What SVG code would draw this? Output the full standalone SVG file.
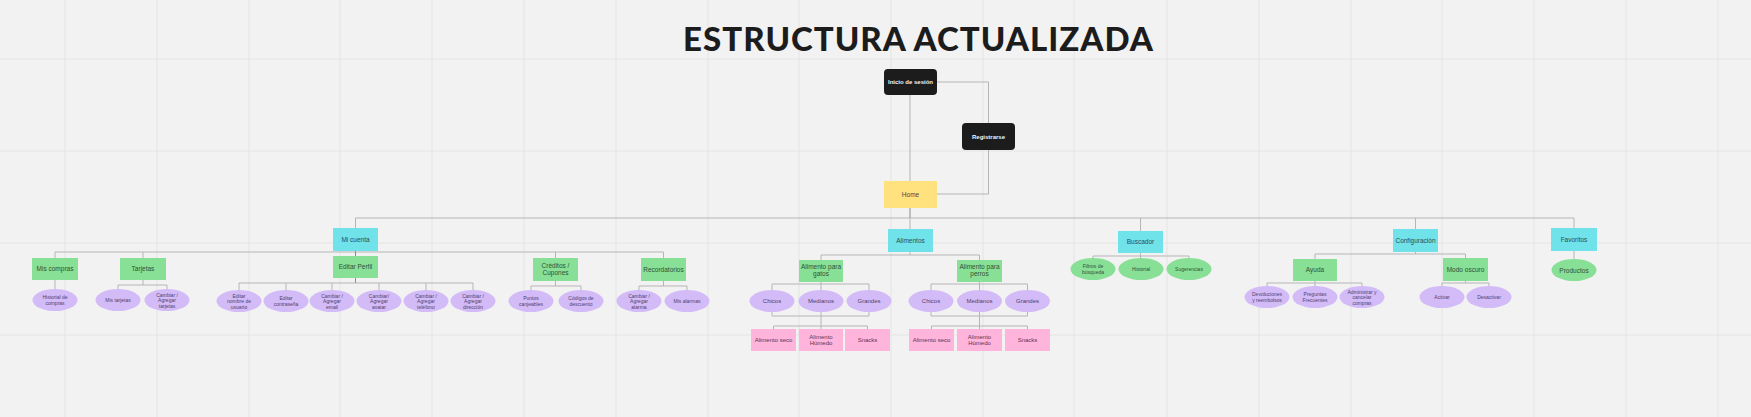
<svg xmlns="http://www.w3.org/2000/svg" width="1751" height="417" viewBox="0 0 1751 417">
<style>
.bg{fill:#f2f2f2}
.grid{stroke:#e4e4e4;stroke-width:1}
.c{fill:none;stroke:#b5b5b5;stroke-width:1}
.cd{fill:none;stroke:#8a8a8a;stroke-width:1}
.dark{fill:#1c1c1c}
.yel{fill:#ffe17e}
.cy{fill:#6fe2ea}
.gr{fill:#88e096}
.pu{fill:#d3bbf8}
.pk{fill:#ffb4dc}
text{font-family:"Liberation Sans",Arial,sans-serif;text-anchor:middle}
.t{font-size:6.5px;fill:#3d4a4a}
.tw{font-size:6px;fill:#f4f4f4;font-weight:bold}
.tg{font-size:6.5px;fill:#2f5136}
.tc{font-size:6.5px;fill:#2a4e55}
.te{font-size:5px;fill:#4d3f6e}
.tge{font-size:5px;fill:#2f5136}
.tp{font-size:6px;fill:#5e3350}
.title{font-family:Lato,"Liberation Sans",sans-serif;font-weight:900;font-size:33px;fill:#1c1c1c}
</style>
<rect class="bg" x="0" y="0" width="1751" height="417"/>
<g id="grid">
<path class="grid" d="M65,0V417M157,0V417M249,0V417M340,0V417M432,0V417M524,0V417M616,0V417M708,0V417M799,0V417M891,0V417M983,0V417M1074,0V417M1167,0V417M1259,0V417M1351,0V417M1442,0V417M1534,0V417M1626,0V417M1718,0V417M0,59H1751M0,151H1751M0,243H1751M0,335H1751"/>
</g>
<text class="title" x="918" y="51" textLength="470" lengthAdjust="spacing">ESTRUCTURA ACTUALIZADA</text>
<g id="connectors">
<path class="c" d="M910,95V181M937,82H988.5V194H937"/>
<path class="cd" d="M910,208V218"/>
<path class="c" d="M355.5,218H1574M355.5,218V228M910,218V229M1140.5,218V231M1415.5,218V229M1574,218V228"/>
<path class="c" d="M55,252H663.5M55,252V258M143,252V258M555.5,252V258M663.5,252V258"/>
<path class="cd" d="M355.5,251V256"/>
<path class="c" d="M55,280V289"/>
<path class="c" d="M143,280V285M118,285H167M118,285V289M167,285V289"/>
<path class="cd" d="M355.5,278V283"/>
<path class="c" d="M239,283H473M239,283V290M286,283V290M332,283V290M379,283V290M426,283V290M473,283V290"/>
<path class="c" d="M555.5,281V286M531,286H581M531,286V290M581,286V290"/>
<path class="c" d="M663.5,281V286M639,286H687M639,286V290M687,286V290"/>
<path class="c" d="M910,252V255M821,255H979.5M821,255V260M979.5,255V260"/>
<path class="c" d="M821,282V284M772,284H869M772,284V290M821,284V290M869,284V290"/>
<path class="c" d="M772,312V316M869,312V316M772,316H869M821,312V326M773.5,326H867.5M773.5,326V329M821,326V329M867.5,326V329"/>
<path class="c" d="M979.5,282V284M931,284H1027.5M931,284V290M979.5,284V290M1027.5,284V290"/>
<path class="c" d="M931,312V316M1027.5,312V316M931,316H1027.5M979.5,312V326M931.5,326H1027.5M931.5,326V329M979.5,326V329M1027.5,326V329"/>
<path class="c" d="M1140.5,253V256M1093,256H1189M1093,256V258M1140.5,256V258M1189,256V258"/>
<path class="c" d="M1415.5,252V254M1315,254H1465.5M1315,254V259M1465.5,254V258"/>
<path class="c" d="M1315,281V283M1267,283H1362M1267,283V286M1315,283V286M1362,283V286"/>
<path class="c" d="M1465.5,281V283M1442,283H1489M1442,283V286M1489,283V286"/>
<path class="c" d="M1574,251V259"/>
</g>
<g id="inicio"><rect class="dark" x="884" y="69" width="53" height="26" rx="4"/><text class="tw" x="910.5" y="84">Inicio de sesión</text></g>
<g id="registrarse"><rect class="dark" x="962" y="123" width="53" height="27" rx="4"/><text class="tw" x="988.5" y="138.5">Registrarse</text></g>
<g id="home"><rect class="yel" x="884" y="181" width="53" height="27"/><text class="t" x="910.5" y="196.5">Home</text></g>

<g id="mi-cuenta"><rect class="cy" x="333" y="228" width="45" height="23"/><text class="tc" x="355.5" y="241.5">Mi cuenta</text></g>
<g id="alimentos"><rect class="cy" x="888" y="229" width="45" height="23"/><text class="tc" x="910.5" y="242.5">Alimentos</text></g>
<g id="buscador"><rect class="cy" x="1118" y="231" width="45" height="22"/><text class="tc" x="1140.5" y="244">Buscador</text></g>
<g id="configuracion"><rect class="cy" x="1393" y="229" width="45" height="23"/><text class="tc" x="1415.5" y="242.5">Configuración</text></g>
<g id="favoritos"><rect class="cy" x="1551" y="228" width="46" height="23"/><text class="tc" x="1574" y="241.5">Favoritos</text></g>

<g id="mis-compras"><rect class="gr" x="32" y="258" width="46" height="22"/><text class="tg" x="55" y="271">Mis compras</text></g>
<g id="tarjetas"><rect class="gr" x="120" y="258" width="46" height="22"/><text class="tg" x="143" y="271">Tarjetas</text></g>
<g id="editar-perfil"><rect class="gr" x="333" y="256" width="45" height="22"/><text class="tg" x="355.5" y="269">Editar Perfil</text></g>
<g id="creditos"><rect class="gr" x="533" y="258" width="45" height="23"/><text class="tg" x="555.5" y="268">Créditos /<tspan x="555.5" dy="7">Cupones</tspan></text></g>
<g id="recordatorios"><rect class="gr" x="641" y="258" width="45" height="23"/><text class="tg" x="663.5" y="271.5">Recordatorios</text></g>
<g id="gatos"><rect class="gr" x="799" y="260" width="44" height="22"/><text class="tg" x="821" y="269">Alimento para<tspan x="821" dy="7">gatos</tspan></text></g>
<g id="perros"><rect class="gr" x="957" y="260" width="45" height="22"/><text class="tg" x="979.5" y="269">Alimento para<tspan x="979.5" dy="7">perros</tspan></text></g>
<g id="ayuda"><rect class="gr" x="1293" y="259" width="44" height="22"/><text class="tg" x="1315" y="272">Ayuda</text></g>
<g id="modo-oscuro"><rect class="gr" x="1443" y="258" width="45" height="23"/><text class="tg" x="1465.5" y="271.5">Modo oscuro</text></g>

<g id="historial-compras"><ellipse class="pu" cx="55" cy="300" rx="22.5" ry="11"/><text class="te" x="55" y="299">Historial de<tspan x="55" dy="5.5">compras</tspan></text></g>
<g id="mis-tarjetas"><ellipse class="pu" cx="118" cy="300" rx="22.5" ry="11"/><text class="te" x="118" y="301.5">Mis tarjetas</text></g>
<g id="cambiar-tarjetas"><ellipse class="pu" cx="167" cy="300" rx="22.5" ry="11"/><text class="te" x="167" y="296.5">Cambiar /<tspan x="167" dy="5.5">Agregar</tspan><tspan x="167" dy="5.5">tarjetas</tspan></text></g>
<g id="editar-nombre"><ellipse class="pu" cx="239" cy="301" rx="22.5" ry="11"/><text class="te" x="239" y="297.5">Editar<tspan x="239" dy="5.5">nombre de</tspan><tspan x="239" dy="5.5">usuario</tspan></text></g>
<g id="editar-contrasena"><ellipse class="pu" cx="286" cy="301" rx="22.5" ry="11"/><text class="te" x="286" y="300">Editar<tspan x="286" dy="5.5">contraseña</tspan></text></g>
<g id="cambiar-email"><ellipse class="pu" cx="332" cy="301" rx="22.5" ry="11"/><text class="te" x="332" y="297.5">Cambiar /<tspan x="332" dy="5.5">Agregar</tspan><tspan x="332" dy="5.5">email</tspan></text></g>
<g id="cambiar-avatar"><ellipse class="pu" cx="379" cy="301" rx="22.5" ry="11"/><text class="te" x="379" y="297.5">Cambiar/<tspan x="379" dy="5.5">Agregar</tspan><tspan x="379" dy="5.5">avatar</tspan></text></g>
<g id="cambiar-telefono"><ellipse class="pu" cx="426" cy="301" rx="22.5" ry="11"/><text class="te" x="426" y="297.5">Cambiar /<tspan x="426" dy="5.5">Agregar</tspan><tspan x="426" dy="5.5">teléfono</tspan></text></g>
<g id="cambiar-direccion"><ellipse class="pu" cx="473" cy="301" rx="22.5" ry="11"/><text class="te" x="473" y="297.5">Cambiar /<tspan x="473" dy="5.5">Agregar</tspan><tspan x="473" dy="5.5">dirección</tspan></text></g>
<g id="puntos"><ellipse class="pu" cx="531" cy="301" rx="22.5" ry="11"/><text class="te" x="531" y="300">Puntos<tspan x="531" dy="5.5">canjeables</tspan></text></g>
<g id="codigos"><ellipse class="pu" cx="581" cy="301" rx="22.5" ry="11"/><text class="te" x="581" y="300">Códigos de<tspan x="581" dy="5.5">descuento</tspan></text></g>
<g id="cambiar-alarma"><ellipse class="pu" cx="639" cy="301" rx="22.5" ry="11"/><text class="te" x="639" y="297.5">Cambiar /<tspan x="639" dy="5.5">Agregar</tspan><tspan x="639" dy="5.5">alarma</tspan></text></g>
<g id="mis-alarmas"><ellipse class="pu" cx="687" cy="301" rx="22.5" ry="11"/><text class="te" x="687" y="302.5">Mis alarmas</text></g>

<g id="gatos-chicos"><ellipse class="pu" cx="772" cy="301" rx="22.5" ry="11"/><text class="te" x="772" y="303" style="font-size:6px">Chicos</text></g>
<g id="gatos-medianos"><ellipse class="pu" cx="821" cy="301" rx="22.5" ry="11"/><text class="te" x="821" y="303" style="font-size:6px">Medianos</text></g>
<g id="gatos-grandes"><ellipse class="pu" cx="869" cy="301" rx="22.5" ry="11"/><text class="te" x="869" y="303" style="font-size:6px">Grandes</text></g>
<g id="perros-chicos"><ellipse class="pu" cx="931" cy="301" rx="22.5" ry="11"/><text class="te" x="931" y="303" style="font-size:6px">Chicos</text></g>
<g id="perros-medianos"><ellipse class="pu" cx="979.5" cy="301" rx="22.5" ry="11"/><text class="te" x="979.5" y="303" style="font-size:6px">Medianos</text></g>
<g id="perros-grandes"><ellipse class="pu" cx="1027.5" cy="301" rx="22.5" ry="11"/><text class="te" x="1027.5" y="303" style="font-size:6px">Grandes</text></g>

<g id="gatos-seco"><rect class="pk" x="751" y="329" width="45" height="22"/><text class="tp" x="773.5" y="342">Alimento seco</text></g>
<g id="gatos-humedo"><rect class="pk" x="799" y="329" width="44" height="22"/><text class="tp" x="821" y="338.5">Alimento<tspan x="821" dy="6.5">Húmedo</tspan></text></g>
<g id="gatos-snacks"><rect class="pk" x="845" y="329" width="45" height="22"/><text class="tp" x="867.5" y="342">Snacks</text></g>
<g id="perros-seco"><rect class="pk" x="909" y="329" width="45" height="22"/><text class="tp" x="931.5" y="342">Alimento seco</text></g>
<g id="perros-humedo"><rect class="pk" x="957" y="329" width="45" height="22"/><text class="tp" x="979.5" y="338.5">Alimento<tspan x="979.5" dy="6.5">Húmedo</tspan></text></g>
<g id="perros-snacks"><rect class="pk" x="1005" y="329" width="45" height="22"/><text class="tp" x="1027.5" y="342">Snacks</text></g>

<g id="filtros"><ellipse class="gr" cx="1093" cy="269" rx="22.5" ry="11"/><text class="tge" x="1093" y="268">Filtros de<tspan x="1093" dy="5.5">búsqueda</tspan></text></g>
<g id="historial"><ellipse class="gr" cx="1141" cy="269" rx="22.5" ry="11"/><text class="tge" x="1141" y="270.5">Historial</text></g>
<g id="sugerencias"><ellipse class="gr" cx="1189" cy="269" rx="22.5" ry="11"/><text class="tge" x="1189" y="270.5">Sugerencias</text></g>

<g id="devoluciones"><ellipse class="pu" cx="1267" cy="297" rx="22.5" ry="11"/><text class="te" x="1267" y="296">Devoluciones<tspan x="1267" dy="5.5">y reembolsos</tspan></text></g>
<g id="preguntas"><ellipse class="pu" cx="1315" cy="297" rx="22.5" ry="11"/><text class="te" x="1315" y="296">Preguntas<tspan x="1315" dy="5.5">Frecuentes</tspan></text></g>
<g id="administrar"><ellipse class="pu" cx="1362" cy="297" rx="22.5" ry="11"/><text class="te" x="1362" y="293.5">Administrar y<tspan x="1362" dy="5.5">cancelar</tspan><tspan x="1362" dy="5.5">compras</tspan></text></g>
<g id="activar"><ellipse class="pu" cx="1442" cy="297" rx="22.5" ry="11"/><text class="te" x="1442" y="298.5">Activar</text></g>
<g id="desactivar"><ellipse class="pu" cx="1489" cy="297" rx="22.5" ry="11"/><text class="te" x="1489" y="298.5">Desactivar</text></g>

<g id="productos"><ellipse class="gr" cx="1574" cy="270" rx="22.5" ry="11"/><text class="tg" x="1574" y="272.5">Productos</text></g>
</svg>
